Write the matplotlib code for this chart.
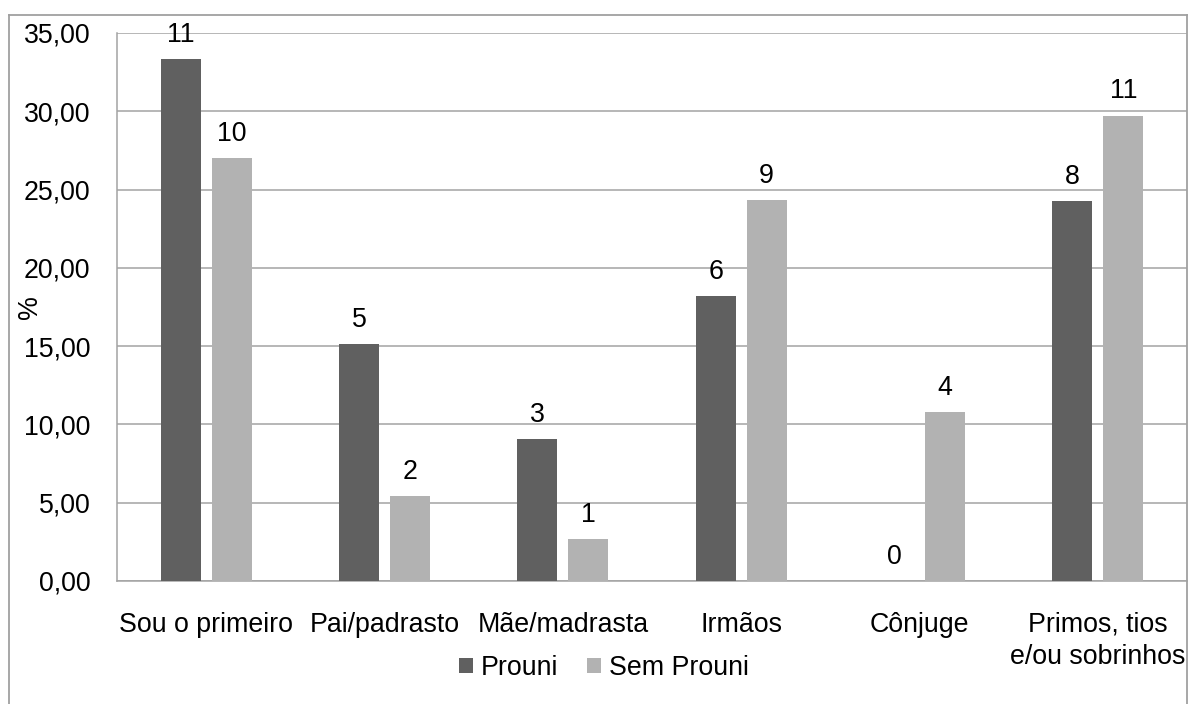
import matplotlib
matplotlib.use("Agg")
import matplotlib.pyplot as plt
from matplotlib.lines import Line2D
from matplotlib.patches import Patch
import numpy as np

plt.rcParams['font.family'] = ['Liberation Sans', 'DejaVu Sans']

categories = ["Sou o primeiro", "Pai/padrasto", "Mãe/madrasta", "Irmãos",
              "Cônjuge", "Primos, tios\ne/ou sobrinhos"]
series_names = ["Prouni", "Sem Prouni"]
prouni_pct = [33.33, 15.15, 9.09, 18.18, 0.00, 24.24]
sem_prouni_pct = [27.03, 5.41, 2.70, 24.32, 10.81, 29.73]
prouni_n = [11, 5, 3, 6, 0, 8]
sem_prouni_n = [10, 2, 1, 9, 4, 11]
yticks = [0, 5, 10, 15, 20, 25, 30, 35]

W, H = 1188, 704
fig = plt.figure(figsize=(W / 100, H / 100), dpi=100)
ax = fig.add_axes([117 / W, 1 - 581 / H, (1187 - 117) / W, (581 - 33) / H])

dark = "#606060"
light = "#b2b2b2"
grid_c = "#a3a3a3"
fs = 19.3

x = np.arange(len(categories))
bw = 0.225
off = 0.143
b1 = ax.bar(x - off, prouni_pct, bw, color=dark, zorder=3)
b2 = ax.bar(x + off, sem_prouni_pct, bw, color=light, zorder=3)

for bars, counts in ((b1, prouni_n), (b2, sem_prouni_n)):
    for rect, n in zip(bars, counts):
        ax.annotate(str(n), (rect.get_x() + rect.get_width() / 2, rect.get_height()),
                    xytext=(0, 8), textcoords="offset points",
                    ha="center", va="bottom", fontsize=fs, color="black")

ax.set_xlim(-0.5, len(categories) - 0.5)
ax.set_ylim(0, 35)
ax.set_yticks(yticks)
ax.set_yticklabels([f"{v:.2f}".replace(".", ",") for v in yticks], fontsize=fs)
ax.set_xticks(x)
ax.set_xticklabels(categories, fontsize=fs, linespacing=1.3)
ax.tick_params(axis="both", length=0)
ax.tick_params(axis="y", pad=19)
ax.tick_params(axis="x", pad=22)
ax.yaxis.grid(True, color=grid_c, linewidth=1.1, zorder=0)
ax.set_axisbelow(True)
for side in ("top", "right"):
    ax.spines[side].set_visible(False)
for side in ("left", "bottom"):
    ax.spines[side].set_color(grid_c)
    ax.spines[side].set_linewidth(1.1)

fig.text(30 / W, 1 - 307 / H, "%", rotation=90, ha="center", va="center", fontsize=fs)

handles = [Patch(facecolor=dark), Patch(facecolor=light)]
fig.legend(handles, series_names, loc="center", bbox_to_anchor=(604 / W, 1 - 668 / H),
           ncol=2, frameon=False, fontsize=fs, handlelength=0.5, handleheight=0.5,
           handletextpad=0.3, columnspacing=1.1)

# outer chart frame
frame_kw = dict(color="#a0a0a0", linewidth=1.3, transform=fig.transFigure)
fig.add_artist(Line2D([9 / W, 9 / W], [0, 1 - 15 / H], **frame_kw))
fig.add_artist(Line2D([9 / W, 1187 / W], [1 - 15 / H, 1 - 15 / H], **frame_kw))
fig.add_artist(Line2D([1187 / W, 1187 / W], [0, 1 - 15 / H], **frame_kw))

fig.savefig("out.png", dpi=100, facecolor="white")
